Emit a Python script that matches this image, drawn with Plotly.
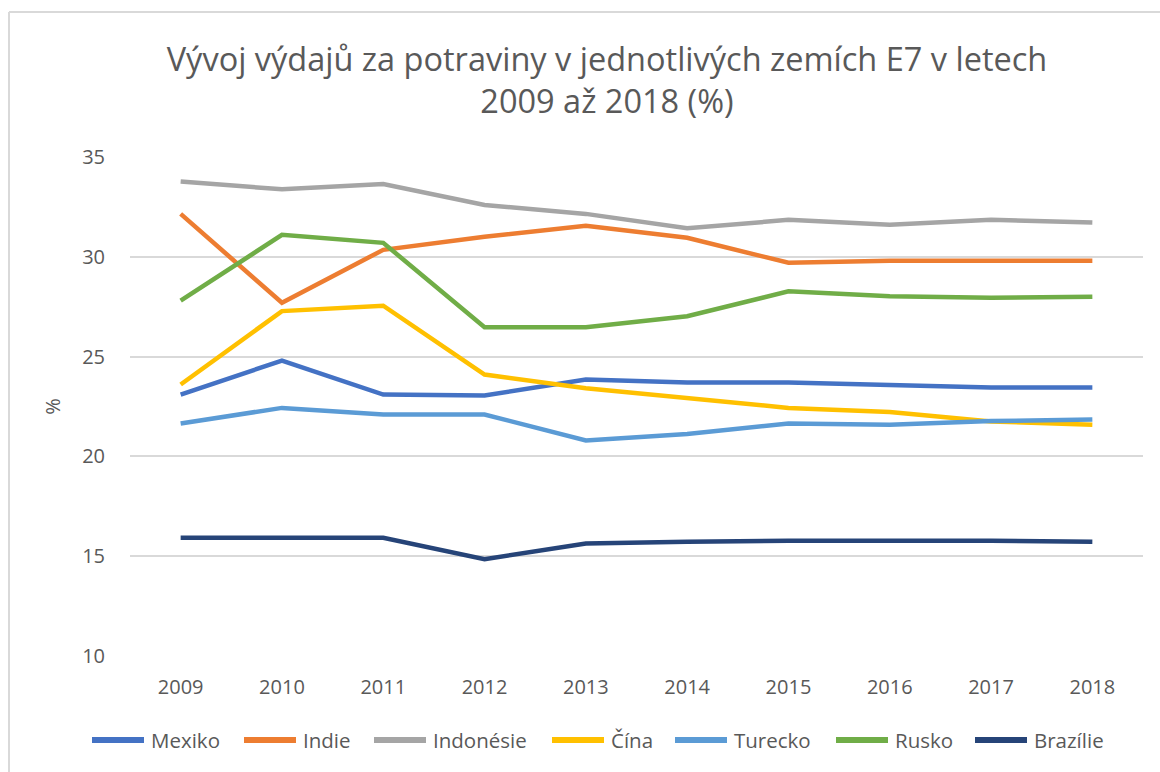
import plotly.graph_objects as go

years = ["2009", "2010", "2011", "2012", "2013", "2014", "2015", "2016", "2017", "2018"]

mexiko = [23.1, 24.8, 23.1, 23.05, 23.85, 23.7, 23.7, 23.55, 23.45, 23.45]
indie = [32.15, 27.7, 30.35, 31.0, 31.55, 30.95, 29.7, 29.8, 29.8, 29.8]
indonesie = [33.77, 33.38, 33.65, 32.6, 32.15, 31.43, 31.85, 31.6, 31.85, 31.72]
cina = [23.6, 27.28, 27.55, 24.1, 23.42, 22.93, 22.43, 22.23, 21.75, 21.58]
turecko = [21.65, 22.43, 22.1, 22.1, 20.8, 21.12, 21.65, 21.58, 21.77, 21.85]
rusko = [27.8, 31.1, 30.7, 26.47, 26.47, 27.02, 28.27, 28.02, 27.95, 28.0]
brazilie = [15.92, 15.92, 15.92, 14.85, 15.64, 15.72, 15.78, 15.78, 15.78, 15.72]

series_names = ["Mexiko", "Indie", "Indonésie", "Čína", "Turecko", "Rusko", "Brazílie"]
series_values = [mexiko, indie, indonesie, cina, turecko, rusko, brazilie]
colors = ["#4472C4", "#ED7D31", "#A5A5A5", "#FFC000", "#5B9BD5", "#70AD47", "#264478"]

y_ticks = [10, 15, 20, 25, 30, 35]

W, H = 1160, 772
L, R, T, B = 130, 17, 157, 116
pw = W - L - R
ph = H - T - B


def px_x(px):
    return (px - L) / pw


def px_y(py):
    return (H - B - py) / ph


# legend layout (pixel positions of swatch starts)
legend_swatch_x = [90, 242, 372, 550, 673, 834, 973]
legend_y = 740
swatch_len = 56
text_gap = 3

fig = go.Figure()
for name, vals, col in zip(series_names, series_values, colors):
    fig.add_trace(go.Scatter(
        x=years, y=vals, name=name, mode="lines",
        line=dict(color=col, width=4.5),
        showlegend=False,
    ))

border = "#d9d9d9"
fig.add_shape(type="line", xref="paper", yref="paper",
              x0=px_x(9), x1=px_x(1200), y0=px_y(12), y1=px_y(12),
              line=dict(color=border, width=2))
fig.add_shape(type="line", xref="paper", yref="paper",
              x0=px_x(9), x1=px_x(9), y0=px_y(12), y1=px_y(800),
              line=dict(color=border, width=2))

for name, col, sx in zip(series_names, colors, legend_swatch_x):
    fig.add_shape(type="line", xref="paper", yref="paper",
                  x0=px_x(sx + 2), x1=px_x(sx + swatch_len - 2),
                  y0=px_y(legend_y), y1=px_y(legend_y),
                  line=dict(color=col, width=6))
    fig.add_annotation(xref="paper", yref="paper",
                       x=px_x(sx + swatch_len + text_gap), y=px_y(legend_y),
                       xanchor="left", yanchor="middle", showarrow=False,
                       text=name, font=dict(size=20.5, color="#595959"))

fig.update_layout(
    width=W, height=H,
    margin=dict(l=L, r=R, t=T, b=B),
    paper_bgcolor="white", plot_bgcolor="white",
    font=dict(family="Open Sans", color="#595959", size=20),
    title=dict(
        text="Vývoj výdajů za potraviny v jednotlivých zemích E7 v letech<br>2009 až 2018 (%)",
        x=607 / W, xanchor="center", y=1 - 71 / H, yanchor="middle",
        font=dict(size=32.5, color="#595959", family="Open Sans"),
    ),
    xaxis=dict(
        type="category", range=[-0.5, 9.5],
        showgrid=False, zeroline=False, showline=False,
        ticks="outside", ticklen=13, tickcolor="rgba(0,0,0,0)",
        tickfont=dict(size=20, color="#595959"),
    ),
    yaxis=dict(
        range=[10, 35], tickvals=y_ticks,
        showgrid=True, gridcolor="#d9d9d9", gridwidth=2,
        zeroline=False, showline=False,
        ticks="outside", ticklen=20, tickcolor="rgba(0,0,0,0)",
        tickfont=dict(size=20, color="#595959"),
        title=dict(text="%", font=dict(size=20, color="#595959"), standoff=16),
    ),
    showlegend=False,
)

fig.write_html("out.html", config={"displayModeBar": False},
               post_script="document.body.style.margin='0';")
